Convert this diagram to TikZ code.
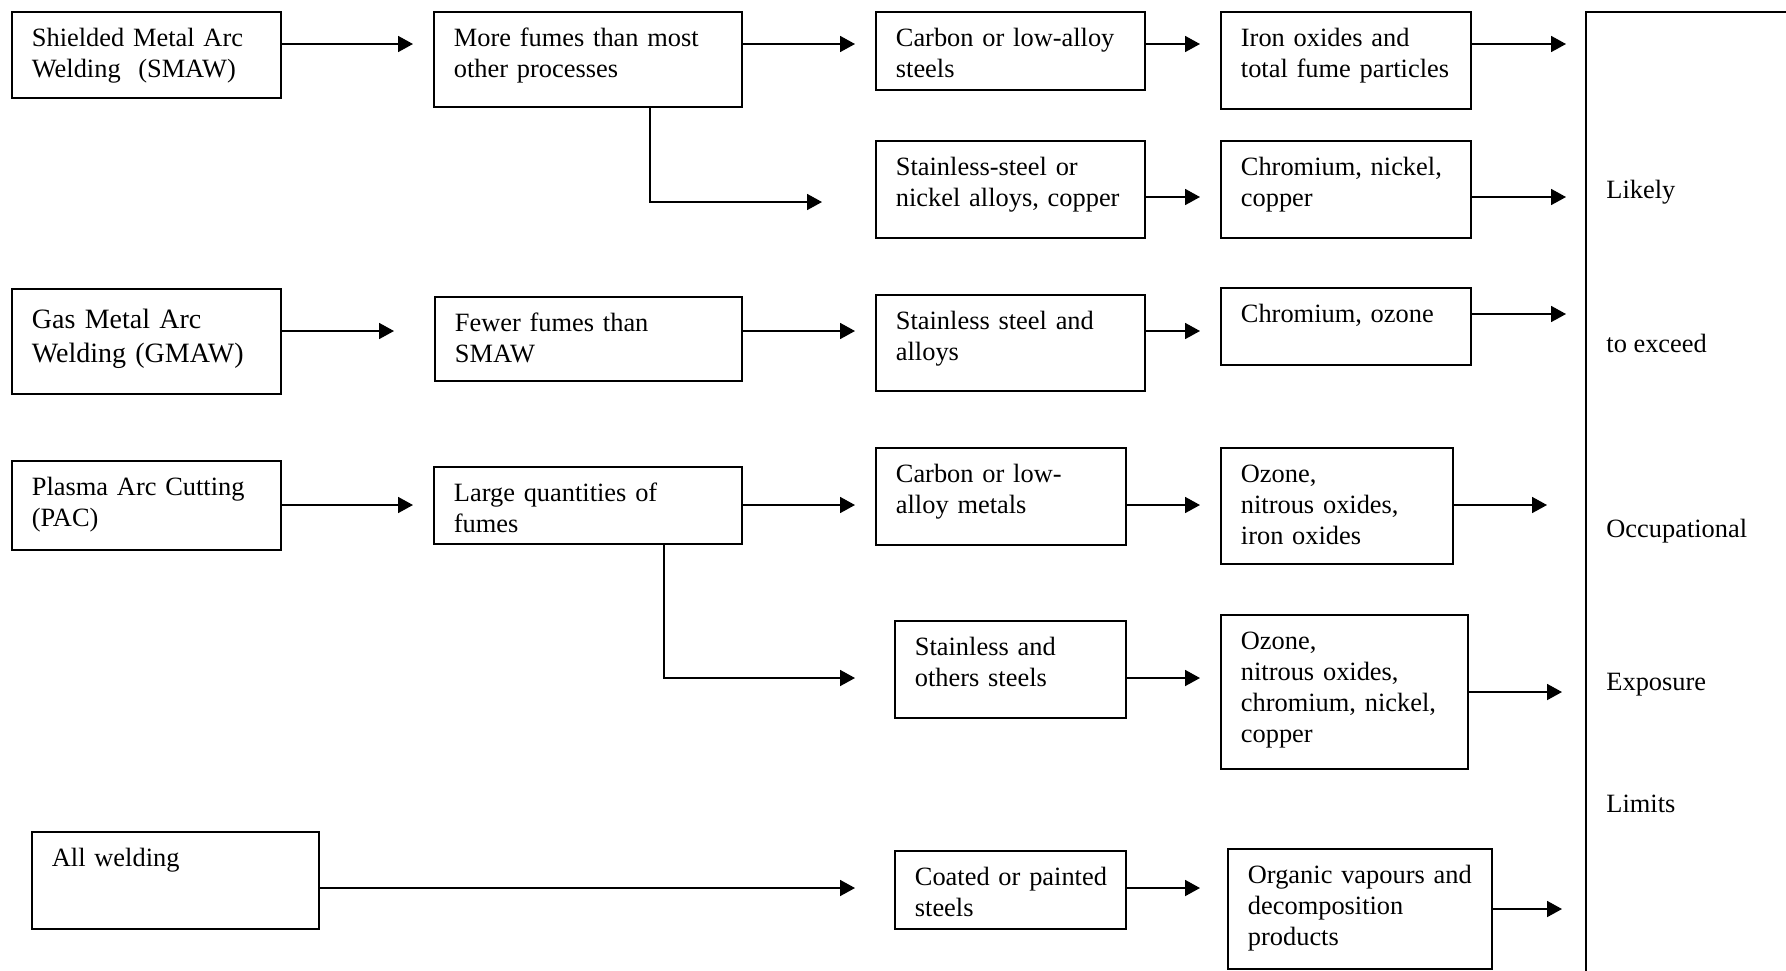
\documentclass[tikz,border=0pt]{standalone}
\usepackage{fontspec}
\setmainfont{Liberation Serif}
\usetikzlibrary{arrows.meta}

\begin{document}
\begin{tikzpicture}[x=0.5pt,y=-0.5pt,
  fume/.style={draw, line width=0.9pt, anchor=north west, inner xsep=10pt, inner ysep=0pt, align=left, text height=17.5pt, font=\fontsize{13.2}{15.5}\selectfont},
  arr/.style={line width=0.9pt, -{Triangle[length=7.5pt,width=8pt]}},
  side/.style={anchor=base west, inner sep=0pt, font=\fontsize{13.2}{15.5}\selectfont}]
\useasboundingbox (0,0) rectangle (1786,970);

% processes
\node[fume, text width=114.5pt, text depth=25.5pt] (smaw) at (11,11) {Shielded~Metal~Arc\\Welding\ \ (SMAW)};
\node[fume, text width=114.5pt, text height=20pt, text depth=32.5pt, font=\fontsize{14}{17}\selectfont] (gmaw) at (11,288) {Gas Metal Arc\\Welding~(GMAW)};
\node[fume, text width=114.5pt, text depth=27pt] (pac) at (11,460) {Plasma~Arc~Cutting\\(PAC)};
\node[fume, text width=123.5pt, text depth=31pt] (allw) at (31,831) {All welding};

% fumes
\node[fume, text width=134pt, text depth=30pt] (more) at (433,11) {More~fumes~than~most\\other processes};
\node[fume, text width=133.5pt, text depth=24.5pt] (fewer) at (434,296) {Fewer fumes than\\SMAW};
\node[fume, text width=134pt, text depth=21pt] (large) at (433,466) {Large quantities of\\fumes};

% metals
\node[fume, text width=114.5pt, text depth=21.5pt] (carbon) at (875,11) {Carbon~or~low-alloy\\steels};
\node[fume, text width=114.5pt, text depth=31pt] (ssnickel) at (875,140) {Stainless-steel or\\nickel~alloys,~copper};
\node[fume, text width=114.5pt, text depth=30.5pt] (ssalloys) at (875,294) {Stainless~steel~and\\alloys};
\node[fume, text width=105pt, text depth=31pt] (carbmet) at (875,447) {Carbon or low-\\alloy metals};
\node[fume, text width=95.5pt, text depth=31pt] (others) at (894,620) {Stainless and\\others steels};
\node[fume, text width=95.5pt, text depth=21.5pt] (coated) at (894,850) {Coated~or~painted\\steels};

% contaminants
\node[fume, text width=105pt, text depth=31pt] (iron) at (1220,11) {Iron oxides and\\total~fume~particles};
\node[fume, text width=105pt, text depth=31pt] (crnicu) at (1220,140) {Chromium,~nickel,\\copper};
\node[fume, text width=105pt, text depth=21pt] (crozone) at (1220,287) {Chromium,~ozone};
\node[fume, text width=96pt, text depth=40.5pt] (ozfe) at (1220,447) {Ozone,\\nitrous~oxides,\\iron oxides};
\node[fume, text width=103.5pt, text depth=59.5pt] (ozcr) at (1220,614) {Ozone,\\nitrous~oxides,\\chromium,~nickel,\\copper};
\node[fume, text width=112pt, text depth=42.5pt] (organic) at (1227,848) {Organic~vapours~and\\decomposition\\products};

% limits
\node[draw, line width=0.9pt, anchor=north west, minimum width=160pt, minimum height=520pt] (limits) at (1585,11) {};
\node[side] (likely) at (1606,198) {Likely};
\node[side] (exceed) at (1606,352) {to exceed};
\node[side] (occup) at (1606,537) {Occupational};
\node[side] (expo) at (1606,690) {Exposure};
\node[side] (lim) at (1606,812) {Limits};

% arrows
\draw[arr, shorten >=10pt] (smaw.east |- 0,44) -- (more.west |- 0,44);
\draw[arr, shorten >=10pt] (more.east |- 0,44) -- (carbon.west |- 0,44);
\draw[arr, shorten >=10pt] (carbon.east |- 0,44) -- (iron.west |- 0,44);
\draw[arr, shorten >=9.5pt] (iron.east |- 0,44) -- (limits.west |- 0,44);
\draw[arr, shorten >=26.5pt] (more.south -| 650,0) |- (ssnickel.west |- 0,202);
\draw[arr, shorten >=10pt] (ssnickel.east |- 0,197) -- (crnicu.west |- 0,197);
\draw[arr, shorten >=9.5pt] (crnicu.east |- 0,197) -- (limits.west |- 0,197);

\draw[arr, shorten >=20pt] (gmaw.east |- 0,331) -- (fewer.west |- 0,331);
\draw[arr, shorten >=10pt] (fewer.east |- 0,331) -- (ssalloys.west |- 0,331);
\draw[arr, shorten >=10pt] (ssalloys.east |- 0,331) -- (crozone.west |- 0,331);
\draw[arr, shorten >=9.5pt] (crozone.east |- 0,314) -- (limits.west |- 0,314);

\draw[arr, shorten >=10pt] (pac.east |- 0,505) -- (large.west |- 0,505);
\draw[arr, shorten >=10pt] (large.east |- 0,505) -- (carbmet.west |- 0,505);
\draw[arr, shorten >=10pt] (carbmet.east |- 0,505) -- (ozfe.west |- 0,505);
\draw[arr, shorten >=19pt] (ozfe.east |- 0,505) -- (limits.west |- 0,505);
\draw[arr, shorten >=19.5pt] (large.south -| 664,0) |- (others.west |- 0,678);
\draw[arr, shorten >=10pt] (others.east |- 0,678) -- (ozcr.west |- 0,678);
\draw[arr, shorten >=11.5pt] (ozcr.east |- 0,692) -- (limits.west |- 0,692);

\draw[arr, shorten >=19.5pt] (allw.east |- 0,888) -- (coated.west |- 0,888);
\draw[arr, shorten >=13.5pt] (coated.east |- 0,888) -- (organic.west |- 0,888);
\draw[arr, shorten >=11.5pt] (organic.east |- 0,909) -- (limits.west |- 0,909);
\end{tikzpicture}
\end{document}
